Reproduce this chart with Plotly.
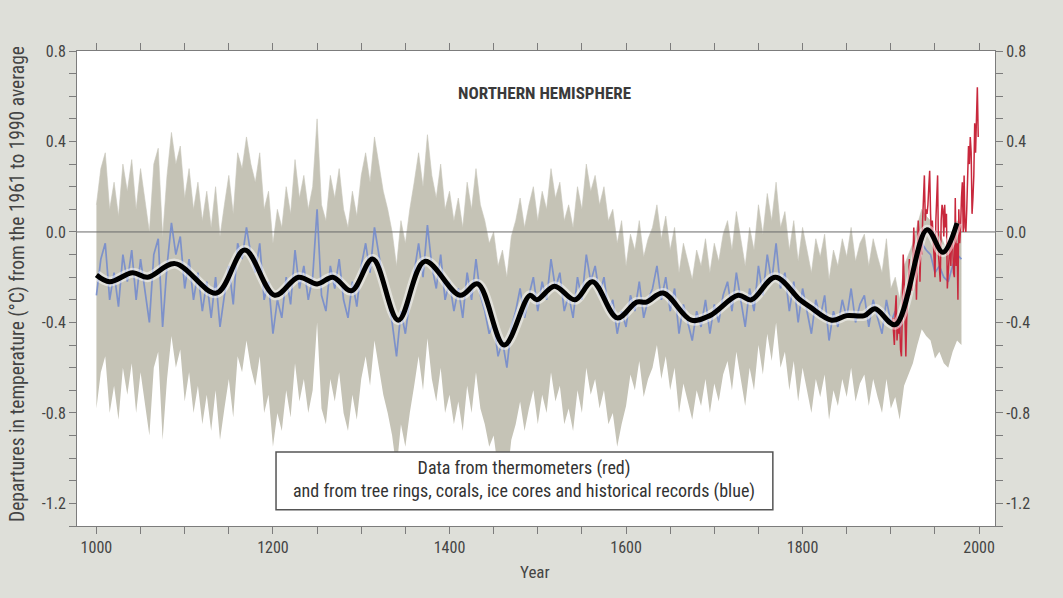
import plotly.graph_objects as go

# Northern Hemisphere temperature reconstruction, departures (°C) from the 1961-1990 average

# Proxy reconstruction (tree rings, corals, ice cores, historical records), 5-year steps 1000-1980
PROXY_YEARS = list(range(1000, 1985, 5))
PROXY_VALUES = [
    -0.28, -0.12, -0.05, -0.30, -0.18, -0.33, -0.10, -0.22, -0.08, -0.30,
    -0.12, -0.25, -0.40, -0.10, -0.03, -0.42, -0.15, 0.04, -0.10, -0.02,
    -0.25, -0.12, -0.30, -0.18, -0.35, -0.22, -0.38, -0.20, -0.42, -0.28,
    -0.15, -0.32, -0.05, -0.12, 0.02, -0.10, -0.18, -0.05, -0.30, -0.22,
    -0.45, -0.30, -0.38, -0.20, -0.32, -0.08, -0.25, -0.15, -0.30, -0.20,
    0.10, -0.28, -0.35, -0.15, -0.25, -0.12, -0.30, -0.38, -0.22, -0.33,
    -0.15, -0.05, -0.18, 0.02, -0.10, -0.22, -0.30, -0.40, -0.55, -0.35,
    -0.45, -0.30, -0.18, -0.05, -0.20, 0.03, -0.15, -0.25, -0.10, -0.30,
    -0.22, -0.35, -0.25, -0.38, -0.18, -0.30, -0.12, -0.28, -0.35, -0.45,
    -0.40, -0.55, -0.48, -0.60, -0.42, -0.35, -0.25, -0.38, -0.28, -0.20,
    -0.35, -0.22, -0.30, -0.12, -0.25, -0.18, -0.35, -0.28, -0.38, -0.20,
    -0.30, -0.10, -0.22, -0.15, -0.28, -0.20, -0.35, -0.30, -0.45, -0.35,
    -0.42, -0.28, -0.35, -0.22, -0.38, -0.30, -0.25, -0.15, -0.30, -0.20,
    -0.35, -0.25, -0.45, -0.32, -0.40, -0.48, -0.35, -0.42, -0.30, -0.45,
    -0.32, -0.40, -0.28, -0.22, -0.35, -0.18, -0.30, -0.42, -0.25, -0.35,
    -0.15, -0.28, -0.10, -0.22, -0.05, -0.25, -0.18, -0.35, -0.22, -0.40,
    -0.25, -0.35, -0.45, -0.30, -0.38, -0.28, -0.48, -0.35, -0.42, -0.30,
    -0.38, -0.25, -0.40, -0.32, -0.28, -0.42, -0.30, -0.38, -0.45, -0.30,
    -0.40, -0.35, -0.45, -0.30, -0.25, -0.20, -0.12, -0.05, -0.08, -0.10,
    -0.18, -0.15, -0.20, -0.22, -0.15, -0.10, -0.12,
]

# Uncertainty range around the reconstruction, by period (distance above / below)
BAND_PERIOD_START = [1000, 1600, 1900]
BAND_ABOVE = [0.40, 0.27, 0.15]
BAND_BELOW = [0.50, 0.35, 0.38]

# Thermometer record, annual 1902-1999
THERMO_YEARS = list(range(1902, 2000))
THERMO_VALUES = [
    -0.38, -0.45, -0.50, -0.35, -0.28, -0.48, -0.42, -0.45, -0.40, -0.52,
    -0.55, -0.35, -0.10, -0.20, -0.42, -0.55, -0.38, -0.30, -0.25, -0.12,
    -0.28, -0.20, -0.26, -0.10, 0.02, -0.12, -0.08, -0.30, -0.05, 0.05,
    -0.02, -0.22, -0.05, -0.10, 0.05, 0.22, 0.25, 0.05, 0.10, 0.08,
    0.12, 0.20, 0.27, 0.08, -0.02, 0.05, -0.05, -0.08, -0.20, 0.05,
    0.15, 0.25, -0.10, -0.15, -0.22, 0.05, 0.12, 0.10, -0.02, 0.12,
    0.02, 0.08, -0.25, -0.18, -0.10, -0.05, -0.15, 0.00, -0.05, -0.18,
    -0.20, 0.15, -0.15, -0.05, -0.30, 0.10, -0.05, 0.02, 0.15, 0.22,
    0.00, 0.25, 0.02, 0.00, 0.10, 0.22, 0.38, 0.30, 0.42, 0.35,
    0.08, 0.15, 0.25, 0.48, 0.35, 0.50, 0.64, 0.42,
]

# 40-year smoothed curve (turning points)
SMOOTH_YEARS = [1000, 1015, 1041, 1058, 1089, 1136, 1168, 1202, 1229, 1250,
                1268, 1289, 1313, 1342, 1372, 1412, 1432, 1462, 1491, 1499,
                1519, 1542, 1562, 1590, 1612, 1623, 1642, 1674, 1695, 1727,
                1742, 1769, 1797, 1808, 1833, 1850, 1870, 1882, 1905, 1941,
                1959, 1975]
SMOOTH_VALUES = [-0.19, -0.22, -0.18, -0.20, -0.14, -0.27, -0.08, -0.28, -0.20, -0.23,
                 -0.20, -0.26, -0.12, -0.39, -0.13, -0.28, -0.23, -0.50, -0.28, -0.30,
                 -0.24, -0.30, -0.22, -0.38, -0.31, -0.31, -0.27, -0.39, -0.37, -0.28,
                 -0.30, -0.20, -0.30, -0.33, -0.39, -0.37, -0.37, -0.34, -0.41, 0.01,
                 -0.09, 0.04]

Y_TICKS = [0.8, 0.4, 0.0, -0.4, -0.8, -1.2]
Y_TICK_LABELS = ["0.8", "0.4", "0.0", "-0.4", "-0.8", "-1.2"]
X_TICKS = [1000, 1200, 1400, 1600, 1800, 2000]

FONT = "Liberation Sans Narrow, Roboto Condensed, DejaVu Sans Condensed, Arial Narrow, sans-serif"
TEXT = "#444444"
AXIS = "#7c7c7c"
BG = "#dedfd9"


def band_edges():
    upper, lower = [], []
    for yr, v in zip(PROXY_YEARS, PROXY_VALUES):
        k = max(i for i, s in enumerate(BAND_PERIOD_START) if yr >= s)
        upper.append(v + BAND_ABOVE[k])
        lower.append(v - BAND_BELOW[k])
    return upper, lower


upper, lower = band_edges()

fig = go.Figure()

# uncertainty range
fig.add_trace(go.Scatter(x=PROXY_YEARS, y=lower, mode="lines",
                         line=dict(color="rgba(0,0,0,0)", width=0),
                         hoverinfo="skip", showlegend=False))
fig.add_trace(go.Scatter(x=PROXY_YEARS, y=upper, mode="lines", fill="tonexty",
                         fillcolor="rgb(197,195,182)",
                         line=dict(color="rgb(200,198,186)", width=0.6),
                         hoverinfo="skip", showlegend=False))

# zero reference line
fig.add_trace(go.Scatter(x=[978, 2018], y=[0, 0], mode="lines",
                         line=dict(color="#6a6a6a", width=1),
                         hoverinfo="skip", showlegend=False))

# proxy reconstruction (blue)
fig.add_trace(go.Scatter(x=PROXY_YEARS, y=PROXY_VALUES, mode="lines",
                         line=dict(color="rgba(112,136,206,0.85)", width=1.7),
                         showlegend=False))

# thermometer record (red)
fig.add_trace(go.Scatter(x=THERMO_YEARS, y=THERMO_VALUES, mode="lines",
                         line=dict(color="#c8283c", width=1.5),
                         showlegend=False))

# smoothed curve with a soft light halo
fig.add_trace(go.Scatter(x=SMOOTH_YEARS, y=SMOOTH_VALUES, mode="lines",
                         line=dict(color="rgba(255,255,255,0.5)", width=10,
                                   shape="spline", smoothing=1.0),
                         hoverinfo="skip", showlegend=False))
fig.add_trace(go.Scatter(x=SMOOTH_YEARS, y=SMOOTH_VALUES, mode="lines",
                         line=dict(color="black", width=5,
                                   shape="spline", smoothing=1.0),
                         showlegend=False))

tickfont = dict(family=FONT, size=16, color=TEXT)
X_RANGE = [978, 2018]
Y_RANGE = [-1.3, 0.8]

# invisible anchor so the top and right axes are drawn
fig.add_trace(go.Scatter(x=[X_RANGE[0]], y=[Y_RANGE[0]], xaxis="x2", yaxis="y2",
                         mode="markers", marker=dict(opacity=0),
                         hoverinfo="skip", showlegend=False))

fig.update_layout(
    width=1063, height=598,
    margin=dict(l=77, r=68, t=51, b=72),
    paper_bgcolor=BG, plot_bgcolor="white",
    showlegend=False,
    xaxis=dict(range=X_RANGE, tickvals=X_TICKS, ticktext=[str(v) for v in X_TICKS],
               ticks="outside", ticklen=7, tickcolor=AXIS, tickfont=tickfont,
               minor=dict(dtick=50, tick0=1000, ticks="outside", ticklen=7, tickcolor=AXIS),
               showline=True, linecolor=AXIS, linewidth=1, showgrid=False,
               zeroline=False, fixedrange=True),
    xaxis2=dict(range=X_RANGE, overlaying="x", side="top", anchor="y",
                tickvals=X_TICKS, showticklabels=False,
                ticks="outside", ticklen=7, tickcolor=AXIS,
                minor=dict(dtick=50, tick0=1000, ticks="outside", ticklen=7, tickcolor=AXIS),
                showline=True, linecolor=AXIS, linewidth=1, showgrid=False, zeroline=False),
    yaxis=dict(range=Y_RANGE, tickvals=Y_TICKS, ticktext=Y_TICK_LABELS,
               ticks="outside", ticklen=7, tickcolor=AXIS, tickfont=tickfont,
               minor=dict(dtick=0.1, tick0=0, ticks="outside", ticklen=7, tickcolor=AXIS),
               showline=True, linecolor=AXIS, linewidth=1, showgrid=False,
               zeroline=False, fixedrange=True),
    yaxis2=dict(range=Y_RANGE, overlaying="y", side="right", anchor="x",
                tickvals=Y_TICKS, ticktext=Y_TICK_LABELS,
                ticks="outside", ticklen=7, tickcolor=AXIS, tickfont=tickfont,
                minor=dict(dtick=0.1, tick0=0, ticks="outside", ticklen=7, tickcolor=AXIS),
                showline=True, linecolor=AXIS, linewidth=1, showgrid=False, zeroline=False),
)

# legend box explaining the colours
fig.add_shape(type="rect", xref="paper", yref="paper",
              x0=0.2168, x1=0.758, y0=0.034, y1=0.156,
              fillcolor="white", line=dict(color="#555555", width=1.5), layer="above")
fig.add_annotation(xref="paper", yref="paper", x=0.487, y=0.097,
                   text="Data from thermometers (red)<br>and from tree rings, corals, ice cores and historical records (blue)",
                   showarrow=False, font=dict(family=FONT, size=18, color="#333333"),
                   align="center", xanchor="center", yanchor="middle")

# panel title
fig.add_annotation(xref="paper", yref="paper", x=0.509, y=0.912,
                   text="<b>NORTHERN HEMISPHERE</b>", showarrow=False,
                   font=dict(family=FONT, size=17, color="#3a3a3a"),
                   xanchor="center", yanchor="middle")

# axis titles
fig.add_annotation(xref="paper", yref="paper", x=-0.064, y=0.51,
                   text="Departures in temperature (°C) from the 1961 to 1990 average",
                   textangle=-90, showarrow=False,
                   font=dict(family=FONT, size=19.5, color=TEXT),
                   xanchor="center", yanchor="middle")
fig.add_annotation(xref="paper", yref="paper", x=0.499, y=-0.097,
                   text="Year", showarrow=False,
                   font=dict(family=FONT, size=17, color=TEXT),
                   xanchor="center", yanchor="middle")

fig.write_html("out.html")
